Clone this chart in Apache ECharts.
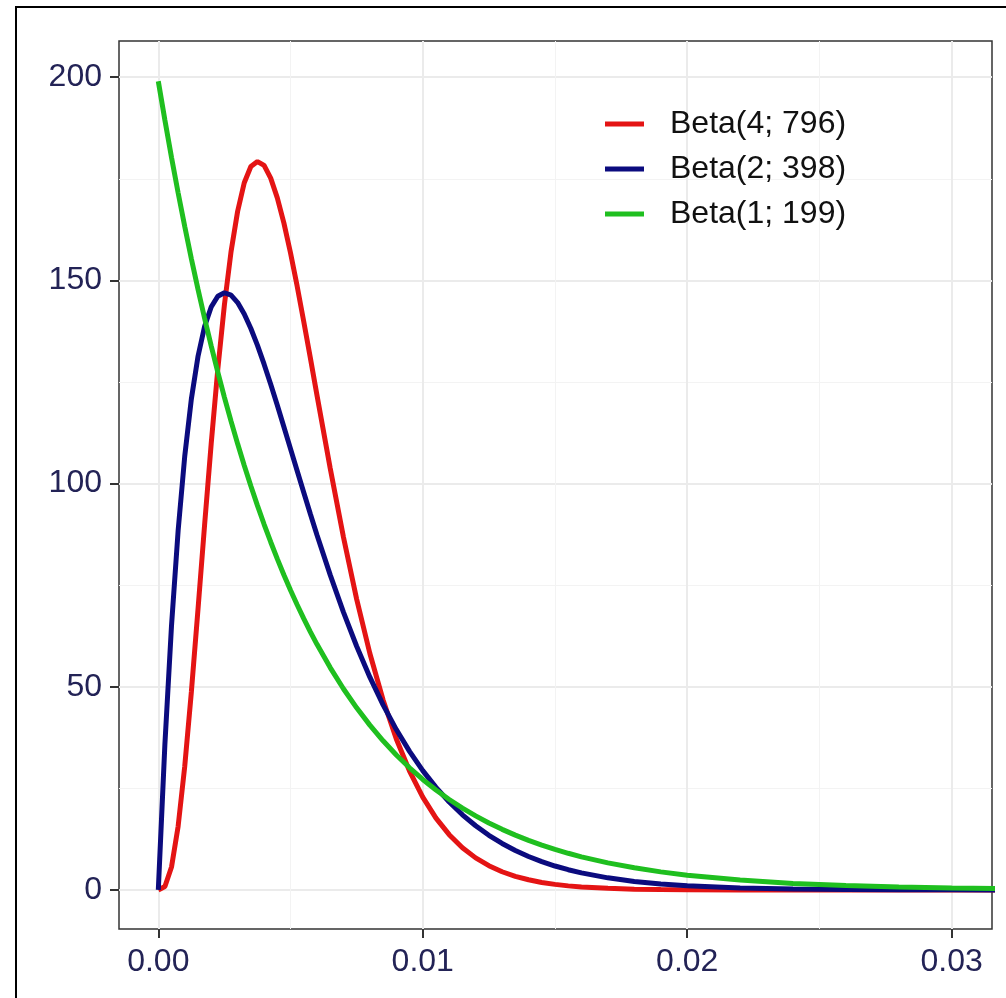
<!DOCTYPE html>
<html>
<head>
<meta charset="utf-8">
<script src="https://cdn.jsdelivr.net/npm/echarts@6/dist/echarts.min.js"></script>
<style>
  html, body { margin: 0; padding: 0; background: #fff; }
  #chart { width: 1006px; height: 998px; }
</style>
</head>
<body>
<div id="chart"></div>
<script>
// x positions of the sampled curve points
const xs = [0, 0.00025, 0.0005, 0.00075, 0.001, 0.00125, 0.0015, 0.00175, 0.002, 0.00225,
  0.0025, 0.00275, 0.003, 0.00325, 0.0035, 0.00375, 0.004, 0.00425, 0.0045, 0.00475,
  0.005, 0.00525, 0.0055, 0.00575, 0.006,
  0.0065, 0.007, 0.0075, 0.008, 0.0085, 0.009, 0.0095,
  0.010, 0.0105, 0.011, 0.0115, 0.012, 0.0125, 0.013, 0.0135, 0.014, 0.0145, 0.015, 0.0155,
  0.016, 0.017, 0.018, 0.019, 0.020,
  0.022, 0.024, 0.026, 0.028, 0.030, 0.032];

// density values
const beta4 = [0, 0.86, 5.66, 15.66, 30.43, 48.71, 68.99, 89.77, 109.81, 128.12,
  144.00, 157.05, 167.01, 174.02, 178.03, 179.24, 178.29, 175.15, 170.31, 164.08,
  156.73, 148.59, 139.85, 130.91, 121.73,
  103.77, 86.84, 71.57, 58.19, 46.75, 37.16, 29.27,
  22.84, 17.69, 13.61, 10.40, 7.90, 5.98, 4.49, 3.36, 2.51, 1.86, 1.38, 1.01,
  0.75, 0.40, 0.21, 0.11, 0.06,
  0.02, 0.01, 0, 0, 0, 0];
const beta2 = [0, 35.95, 65.10, 88.42, 106.75, 120.81, 131.26, 138.65, 143.45, 146.10,
  146.96, 146.35, 144.53, 141.74, 138.16, 134.01, 129.38, 124.43, 119.25, 113.92,
  108.54, 103.15, 97.80, 92.51, 87.36,
  77.54, 68.37, 59.97, 52.37, 45.54, 39.47, 34.11,
  29.38, 25.25, 21.64, 18.50, 15.80, 13.46, 11.45, 9.72, 8.24, 6.98, 5.90, 4.99,
  4.21, 2.99, 2.11, 1.49, 1.04,
  0.51, 0.25, 0.12, 0.06, 0.03, 0.01];
const beta1 = [199, 189.39, 180.24, 171.53, 163.24, 155.34, 147.84, 140.69, 133.88, 127.40,
  121.23, 115.36, 109.78, 104.46, 99.39, 94.57, 89.99, 85.63, 81.47, 77.52,
  73.76, 70.18, 66.77, 63.53, 60.44,
  54.72, 49.52, 44.82, 40.57, 36.71, 33.22, 30.06,
  27.20, 24.61, 22.27, 20.14, 18.23, 16.49, 14.92, 13.49, 12.20, 11.04, 9.98, 9.03,
  8.16, 6.67, 5.46, 4.46, 3.64,
  2.43, 1.62, 1.08, 0.72, 0.48, 0.32];

const seriesNames = ['Beta(4; 796)', 'Beta(2; 398)', 'Beta(1; 199)'];
const seriesColors = ['#e41414', '#0b0b7e', '#1fbf1f'];

const xMajor = [0, 0.01, 0.02, 0.03];
const xMinor = [0.005, 0.015, 0.025];
const yMajor = [0, 50, 100, 150, 200];
const yMinor = [25, 75, 125, 175];

const xMin = -0.001486, xMax = 0.031524;
const yMin = -9.6, yMax = 208.9;

const labelColor = '#232356';
const font = 'Liberation Sans';

function pairs(ys) {
  return xs.map((x, i) => [x, ys[i]]);
}

const option = {
  animation: false,
  backgroundColor: '#fff',
  graphic: [{
    type: 'rect',
    shape: { x: 16, y: 7, width: 1100, height: 1100 },
    style: { fill: 'none', stroke: '#000', lineWidth: 2 },
    z: 100
  }],
  grid: {
    left: 119,
    top: 41,
    width: 873,
    height: 888,
    show: true,
    borderColor: '#333',
    borderWidth: 1.5,
    backgroundColor: '#fff'
  },
  legend: {
    left: 600,
    top: 103,
    orient: 'vertical',
    icon: 'rect',
    itemWidth: 39,
    itemHeight: 5,
    itemGap: 13,
    data: seriesNames,
    textStyle: {
      fontFamily: font,
      fontSize: 32,
      color: '#111',
      padding: [0, 0, 0, 21]
    }
  },
  xAxis: [{
    type: 'value',
    min: xMin,
    max: xMax,
    axisLine: { show: false, onZero: false },
    axisTick: { show: true, inside: false, length: 9, lineStyle: { color: '#333', width: 2 }, customValues: xMajor },
    axisLabel: {
      customValues: xMajor,
      formatter: v => v.toFixed(2),
      fontFamily: font, fontSize: 32, color: labelColor, margin: 17
    },
    splitLine: { show: true, lineStyle: { color: '#ebebeb', width: 2 } }
  }, {
    type: 'value',
    min: xMin,
    max: xMax,
    axisLine: { show: false, onZero: false },
    axisTick: { show: false, customValues: xMinor },
    axisLabel: { show: false },
    splitLine: { show: true, lineStyle: { color: '#f3f3f3', width: 1 } }
  }],
  yAxis: [{
    type: 'value',
    min: yMin,
    max: yMax,
    axisLine: { show: false, onZero: false },
    axisTick: { show: true, inside: false, length: 9, lineStyle: { color: '#333', width: 2 }, customValues: yMajor },
    axisLabel: {
      customValues: yMajor,
      fontFamily: font, fontSize: 32, color: labelColor, margin: 17
    },
    splitLine: { show: true, lineStyle: { color: '#ebebeb', width: 2 } }
  }, {
    type: 'value',
    min: yMin,
    max: yMax,
    axisLine: { show: false, onZero: false },
    axisTick: { show: false, customValues: yMinor },
    axisLabel: { show: false },
    splitLine: { show: true, lineStyle: { color: '#f3f3f3', width: 1 } }
  }],
  series: [beta4, beta2, beta1].map((ys, i) => ({
    name: seriesNames[i],
    type: 'line',
    data: pairs(ys),
    color: seriesColors[i],
    showSymbol: false,
    smooth: false,
    clip: true,
    lineStyle: { width: 5, color: seriesColors[i] }
  }))
};

const myChart = echarts.init(document.getElementById('chart'));
myChart.setOption(option);
window.addEventListener('resize', () => myChart.resize());
</script>
</body>
</html>
